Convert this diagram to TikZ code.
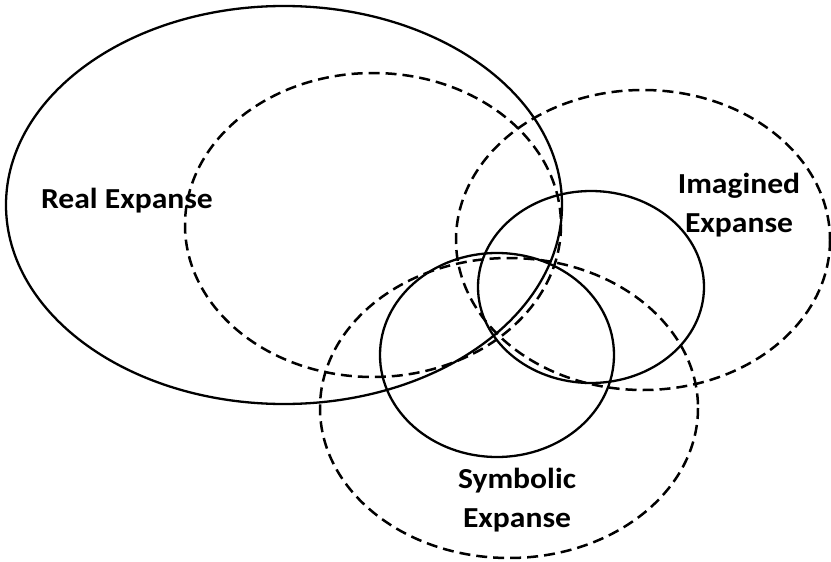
\documentclass[tikz,border=0pt]{standalone}
\usepackage{fontspec}
\setmainfont{Carlito}
\begin{document}
\begin{tikzpicture}[x=1pt,y=-1pt,
  solidring/.style={draw=black,line width=2.3pt},
  dashring/.style={draw=black,line width=2.5pt,dash pattern=on 11pt off 6pt},
  lbl/.style={font=\fontsize{29}{39}\selectfont\bfseries,align=center,inner sep=0pt,xscale=1.09,anchor=base}]
\useasboundingbox (0,0) rectangle (831,562);
\draw[solidring] (284,205) ellipse [x radius=278, y radius=199];
\draw[dashring] (373,225) ellipse [x radius=188, y radius=152];
\draw[dashring] (643,240) ellipse [x radius=187, y radius=150];
\draw[solidring] (591,287) ellipse [x radius=113, y radius=96];
\draw[solidring] (497,355) ellipse [x radius=117, y radius=102];
\draw[dashring] (509,408) ellipse [x radius=189, y radius=150];
\node[lbl] (real) at (127,208) {Real Expanse};
\node[lbl] (imag) at (739,232) {Imagined\\Expanse};
\node[lbl] (symb) at (517,527) {Symbolic\\Expanse};
\end{tikzpicture}
\end{document}
